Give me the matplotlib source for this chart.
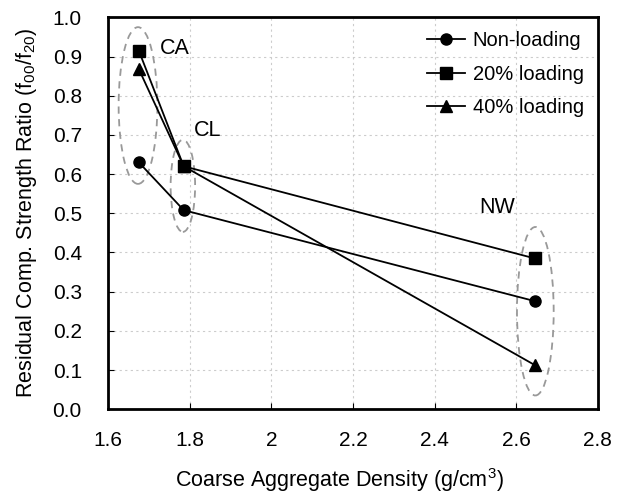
import matplotlib
matplotlib.use('Agg')
import matplotlib.pyplot as plt
from matplotlib.patches import Ellipse

plt.rcParams['font.family'] = ['Liberation Sans', 'DejaVu Sans']
plt.rcParams['mathtext.fontset'] = 'custom'
plt.rcParams['mathtext.rm'] = 'Liberation Sans'
plt.rcParams['mathtext.it'] = 'Liberation Sans'

density = [1.675, 1.785, 2.645]
non_loading = [0.63, 0.508, 0.276]
load_20 = [0.915, 0.62, 0.385]
load_40 = [0.868, 0.62, 0.113]
group_labels = ['CA', 'CL', 'NW']

fig = plt.figure(figsize=(6.22, 4.96), dpi=100)
ax = fig.add_axes([0.174, 0.175, 0.787, 0.79])

ax.plot(density, non_loading, 'k-', marker='o', ms=8, lw=1.3, label='Non-loading')
ax.plot(density, load_20, 'k-', marker='s', ms=8, lw=1.3, label='20% loading')
ax.plot(density, load_40, 'k-', marker='^', ms=9, lw=1.3, label='40% loading')

# dashed ellipses around each aggregate group
for cx, cy, w, h in [(1.673, 0.775, 0.095, 0.40), (1.783, 0.57, 0.06, 0.235), (2.647, 0.25, 0.09, 0.43)]:
    ax.add_patch(Ellipse((cx, cy), w, h, fill=False, ls=(0, (4, 3)), ec='#999999', lw=1.3))

for x, y, s in zip([1.727, 1.81, 2.51], [0.92, 0.71, 0.515], group_labels):
    ax.text(x, y, s, fontsize=15.5, va='center')

ax.set_xlim(1.6, 2.8)
ax.set_ylim(0, 1.0)
ax.set_xticks([1.6, 1.8, 2.0, 2.2, 2.4, 2.6, 2.8])
ax.set_xticklabels(['1.6', '1.8', '2', '2.2', '2.4', '2.6', '2.8'])
ax.set_yticks([i / 10 for i in range(11)])
ax.set_yticklabels(['%.1f' % (i / 10) for i in range(11)])
ax.grid(True, ls=(0, (2, 3)), color='#cccccc', lw=0.8)
ax.set_axisbelow(True)
ax.tick_params(axis='x', direction='in', pad=16, labelsize=15, length=4)
ax.tick_params(axis='y', direction='in', pad=19, labelsize=15, length=4)
for s in ax.spines.values():
    s.set_linewidth(2)

ax.set_xlabel('Coarse Aggregate Density (g/cm$^3$)', fontsize=15.5, labelpad=11)
ax.xaxis.label.set_x(0.472)
ax.set_ylabel('Residual Comp. Strength Ratio (f$_{00}$/f$_{20}$)', fontsize=15.5, labelpad=10)

ax.legend(loc='upper right', frameon=False, fontsize=14.5, handlelength=1.9,
          handletextpad=0.35, labelspacing=0.72, borderaxespad=0.3)

fig.savefig('out.png', dpi=100)
